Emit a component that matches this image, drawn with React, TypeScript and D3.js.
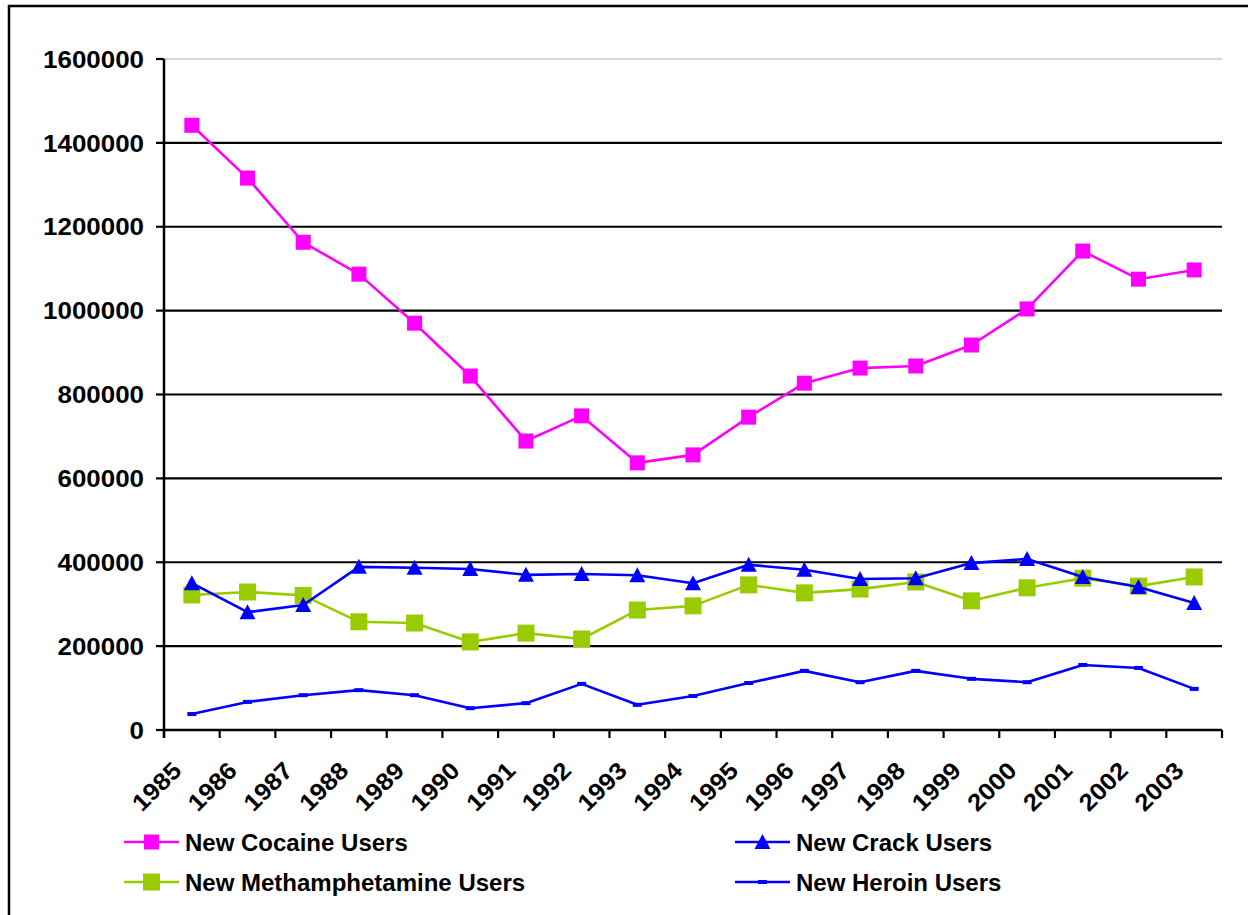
import React from "react";
import * as d3 from "d3";

const years = ["1985","1986","1987","1988","1989","1990","1991","1992","1993","1994","1995","1996","1997","1998","1999","2000","2001","2002","2003"];
const cocaine = [1442000,1316000,1163000,1087000,970000,844000,689000,749000,637000,656000,746000,827000,863000,868000,918000,1004000,1142000,1075000,1097000];
const crack = [350000,281000,298000,389000,387000,384000,370000,372000,369000,350000,394000,382000,360000,362000,398000,408000,365000,341000,303000];
const meth = [322000,329000,321000,258000,255000,210000,231000,217000,286000,296000,346000,327000,336000,353000,308000,339000,362000,343000,365000];
const heroin = [38000,67000,83000,95000,83000,52000,64000,110000,60000,81000,112000,141000,114000,141000,122000,114000,155000,148000,98000];
const yTicks = [0,200000,400000,600000,800000,1000000,1200000,1400000,1600000];

const PINK = "#FF00FF";
const BLUE = "#0000FF";
const GREEN = "#99CC00";
const FONT = "'Liberation Sans', Arial, sans-serif";

type Marker = "square" | "squareL" | "triangle" | "dash";

function MarkerShape({ type, x, y, color }: { type: Marker; x: number; y: number; color: string }) {
  if (type === "square") return <rect x={x - 7.5} y={y - 7.5} width={15} height={15} fill={color} />;
  if (type === "squareL") return <rect x={x - 8.5} y={y - 8.5} width={17} height={17} fill={color} />;
  if (type === "triangle") return <path d={`M${x},${y - 8}L${x + 8},${y + 7}L${x - 8},${y + 7}Z`} fill={color} />;
  return <rect x={x - 4.5} y={y - 2} width={9} height={4} fill={color} />;
}

const series: { name: string; values: number[]; color: string; marker: Marker }[] = [
  { name: "New Cocaine Users", values: cocaine, color: PINK, marker: "square" },
  { name: "New Crack Users", values: crack, color: BLUE, marker: "triangle" },
  { name: "New Methamphetamine Users", values: meth, color: GREEN, marker: "squareL" },
  { name: "New Heroin Users", values: heroin, color: BLUE, marker: "dash" },
];

export default function App() {
  const left = 164, right = 1222, top = 59, bottom = 730;
  const x = d3.scaleBand<string>().domain(years).range([left, right]);
  const y = d3.scaleLinear().domain([0, 1600000]).range([bottom, top]);
  const cx = (yr: string) => (x(yr) as number) + x.bandwidth() / 2;
  const line = d3.line<number>().x((_, i) => cx(years[i])).y((v) => y(v));
  const boundaries = years.map((yr) => x(yr) as number).concat([right]);

  const legendItems = [
    { s: series[0], lx: 124, ly: 842 },
    { s: series[1], lx: 735, ly: 842 },
    { s: series[2], lx: 124, ly: 882 },
    { s: series[3], lx: 735, ly: 882 },
  ];

  const drawOrder = [series[3], series[2], series[1], series[0]];

  return (
    <svg width={1248} height={915} style={{ position: "absolute", left: 0, top: 0, background: "#fff" }} fontFamily={FONT}>
      <rect x={0} y={0} width={1248} height={915} fill="#fff" />
      <rect x={9} y={6} width={1300} height={1000} fill="none" stroke="#000" strokeWidth={2.5} />
      {/* gridlines */}
      {yTicks.map((t) => (
        <line key={t} x1={left} x2={right} y1={y(t)} y2={y(t)} stroke={t === 1600000 ? "#c8c8c8" : "#000"} strokeWidth={t === 1600000 ? 1.5 : 2.2} />
      ))}
      {/* y axis */}
      <line x1={left} x2={left} y1={top} y2={bottom + 8} stroke="#000" strokeWidth={2.5} />
      {yTicks.map((t) => (
        <g key={"yt" + t}>
          <line x1={left - 8} x2={left} y1={y(t)} y2={y(t)} stroke="#000" strokeWidth={2.2} />
          <text transform={`translate(144,${y(t)}) scale(1.08,1)`} dy="0.36em" textAnchor="end" fontSize={24} fontWeight="bold" fill="#000">
            {t}
          </text>
        </g>
      ))}
      {/* x axis */}
      <line x1={left} x2={right} y1={bottom} y2={bottom} stroke="#000" strokeWidth={2.5} />
      {boundaries.map((b, i) => (
        <line key={"xt" + i} x1={b} x2={b} y1={bottom} y2={bottom + 8} stroke="#000" strokeWidth={2.2} />
      ))}
      {years.map((yr) => (
        <text key={"xl" + yr} transform={`translate(${cx(yr) - 9},${772}) rotate(-45) scale(1.08,1)`} textAnchor="end" fontSize={24} fontWeight="bold" fill="#000">
          {yr}
        </text>
      ))}
      {/* series */}
      {drawOrder.map((s) => (
        <g key={s.name}>
          <path d={line(s.values) as string} fill="none" stroke={s.color} strokeWidth={2.6} strokeLinejoin="round" />
          {s.values.map((v, i) => (
            <MarkerShape key={i} type={s.marker} x={cx(years[i])} y={y(v)} color={s.color} />
          ))}
        </g>
      ))}
      {/* legend */}
      {legendItems.map(({ s, lx, ly }) => (
        <g key={"lg" + s.name}>
          <line x1={lx} x2={lx + 55} y1={ly} y2={ly} stroke={s.color} strokeWidth={2.6} />
          <MarkerShape type={s.marker} x={lx + 27.5} y={ly} color={s.color} />
          <text x={lx + 61} y={ly + 9} fontSize={24} fontWeight="bold" fill="#000">
            {s.name}
          </text>
        </g>
      ))}
    </svg>
  );
}
